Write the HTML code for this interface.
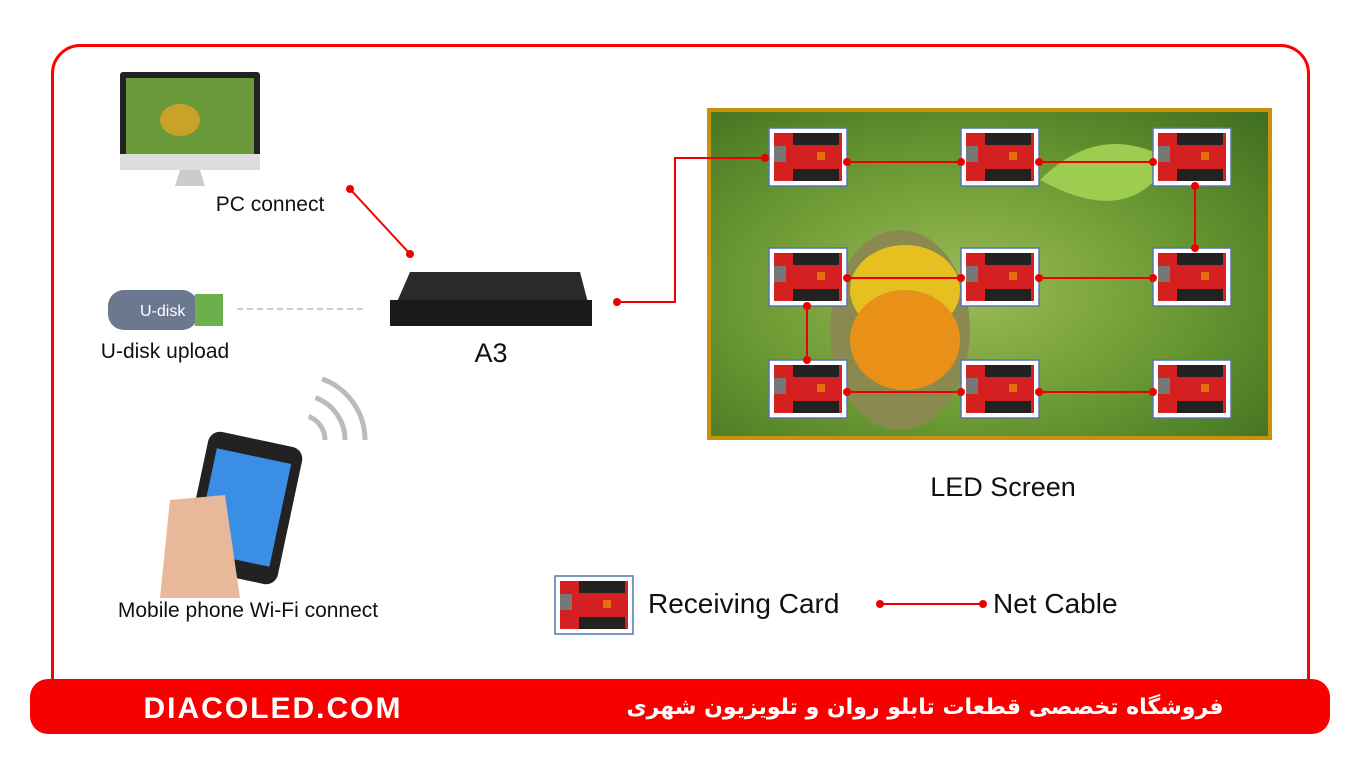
<!DOCTYPE html>
<html><head><meta charset="utf-8"><style>
body{margin:0;width:1366px;height:762px;background:#fff;overflow:hidden;font-family:"Liberation Sans",sans-serif}
</style></head><body>
<svg width="1366" height="762" xmlns="http://www.w3.org/2000/svg" font-family="Liberation Sans, DejaVu Sans, sans-serif">
<defs>
<radialGradient id="bg" cx="0.45" cy="0.55" r="0.8">
<stop offset="0" stop-color="#9cbc58"/><stop offset="0.5" stop-color="#6a9832"/><stop offset="1" stop-color="#3a6a1e"/>
</radialGradient>
<g id="card">
<rect x="0" y="0" width="78" height="58" fill="#fff" stroke="#5577aa" stroke-width="1.5"/>
<rect x="5" y="5" width="68" height="48" fill="#d42020"/>
<rect x="5" y="18" width="12" height="16" fill="#777"/>
<rect x="24" y="5" width="46" height="12" fill="#222"/>
<rect x="24" y="41" width="46" height="12" fill="#222"/>
<rect x="48" y="24" width="8" height="8" fill="#e07010"/>
</g>
</defs>
<rect x="52.5" y="45.5" width="1256" height="660" rx="28" fill="none" stroke="#f00" stroke-width="3"/>
<rect x="30" y="679" width="1300" height="55" rx="18" fill="#f80000"/>
<text x="273" y="718" fill="#fff" font-size="30" font-weight="bold" text-anchor="middle" letter-spacing="2">DIACOLED.COM</text>
<text x="925" y="714" fill="#fff" font-size="22" font-weight="bold" text-anchor="middle" font-family="DejaVu Sans, sans-serif">فروشگاه تخصصی قطعات تابلو روان و تلویزیون شهری</text>
<rect x="120" y="72" width="140" height="92" rx="3" fill="#222"/>
<rect x="126" y="78" width="128" height="76" fill="#6a9a3a"/>
<ellipse cx="180" cy="120" rx="20" ry="16" fill="#c9a22a"/>
<rect x="120" y="154" width="140" height="16" fill="#ddd"/>
<polygon points="180,170 200,170 205,186 175,186" fill="#ccc"/>
<text x="270" y="211" font-size="21" text-anchor="middle" fill="#111">PC connect</text>
<line x1="350" y1="189" x2="410" y2="254" stroke="#e00" stroke-width="2"/>
<circle cx="350" cy="189" r="4" fill="#e00"/><circle cx="410" cy="254" r="4" fill="#e00"/>
<rect x="108" y="290" width="90" height="40" rx="16" fill="#6c7890"/>
<rect x="195" y="294" width="28" height="32" fill="#6ab04c"/>
<text x="140" y="316" font-size="16" fill="#fff">U-disk</text>
<text x="165" y="358" font-size="21" text-anchor="middle" fill="#111">U-disk upload</text>
<line x1="237" y1="309" x2="365" y2="309" stroke="#ccc" stroke-width="2" stroke-dasharray="6,4"/>
<polygon points="410,272 580,272 592,318 390,318" fill="#2a2a2a"/>
<rect x="390" y="300" width="202" height="26" fill="#1a1a1a"/>
<text x="491" y="362" font-size="27" text-anchor="middle" fill="#111">A3</text>
<g stroke="#bbb" stroke-width="5" fill="none">
<path d="M308.6,416.5 A25,25 0 0 1 325,440"/>
<path d="M315.4,397.7 A45,45 0 0 1 345,440"/>
<path d="M322.2,378.9 A65,65 0 0 1 365,440"/>
</g>
<rect x="195" y="438" width="96" height="140" rx="12" fill="#222" transform="rotate(12 243 508)"/>
<rect x="205" y="455" width="76" height="105" fill="#3a8ee6" transform="rotate(12 243 508)"/>
<path d="M160,598 L170,500 L225,495 L240,598 Z" fill="#e8b89a"/>
<text x="248" y="617" font-size="21" text-anchor="middle" fill="#111">Mobile phone Wi-Fi connect</text>
<rect x="709" y="110" width="561" height="328" fill="url(#bg)" stroke="#c8920a" stroke-width="4"/>
<ellipse cx="900" cy="330" rx="70" ry="100" fill="#8a8a50"/>
<ellipse cx="905" cy="290" rx="55" ry="45" fill="#e6c020"/>
<ellipse cx="905" cy="340" rx="55" ry="50" fill="#e89018"/>
<path d="M1040,180 q60,-60 130,-20 q-40,70 -130,20z" fill="#9ccc50"/>
<text x="1003" y="496" font-size="27" text-anchor="middle" fill="#111">LED Screen</text>
<g stroke="#e00" stroke-width="2" fill="none">
<polyline points="617,302 675,302 675,158 769,158"/>
<line x1="847" y1="162" x2="961" y2="162"/><line x1="1039" y1="162" x2="1153" y2="162"/>
<line x1="1195" y1="186" x2="1195" y2="248"/>
<line x1="847" y1="278" x2="961" y2="278"/><line x1="1039" y1="278" x2="1153" y2="278"/>
<line x1="807" y1="306" x2="807" y2="360"/>
<line x1="847" y1="392" x2="961" y2="392"/><line x1="1039" y1="392" x2="1153" y2="392"/>
</g>
<use href="#card" x="769" y="128"/><use href="#card" x="961" y="128"/><use href="#card" x="1153" y="128"/>
<use href="#card" x="769" y="248"/><use href="#card" x="961" y="248"/><use href="#card" x="1153" y="248"/>
<use href="#card" x="769" y="360"/><use href="#card" x="961" y="360"/><use href="#card" x="1153" y="360"/>
<g fill="#e00">
<circle cx="617" cy="302" r="4"/><circle cx="765" cy="158" r="4"/>
<circle cx="847" cy="162" r="4"/><circle cx="961" cy="162" r="4"/><circle cx="1039" cy="162" r="4"/><circle cx="1153" cy="162" r="4"/>
<circle cx="1195" cy="186" r="4"/><circle cx="1195" cy="248" r="4"/>
<circle cx="847" cy="278" r="4"/><circle cx="961" cy="278" r="4"/><circle cx="1039" cy="278" r="4"/><circle cx="1153" cy="278" r="4"/>
<circle cx="807" cy="306" r="4"/><circle cx="807" cy="360" r="4"/>
<circle cx="847" cy="392" r="4"/><circle cx="961" cy="392" r="4"/><circle cx="1039" cy="392" r="4"/><circle cx="1153" cy="392" r="4"/>
</g>
<use href="#card" x="555" y="576"/>
<text x="648" y="613" font-size="28" fill="#111">Receiving Card</text>
<line x1="880" y1="604" x2="983" y2="604" stroke="#e00" stroke-width="2"/>
<circle cx="880" cy="604" r="4" fill="#e00"/><circle cx="983" cy="604" r="4" fill="#e00"/>
<text x="993" y="613" font-size="28" fill="#111">Net Cable</text>
</svg>
</body></html>
